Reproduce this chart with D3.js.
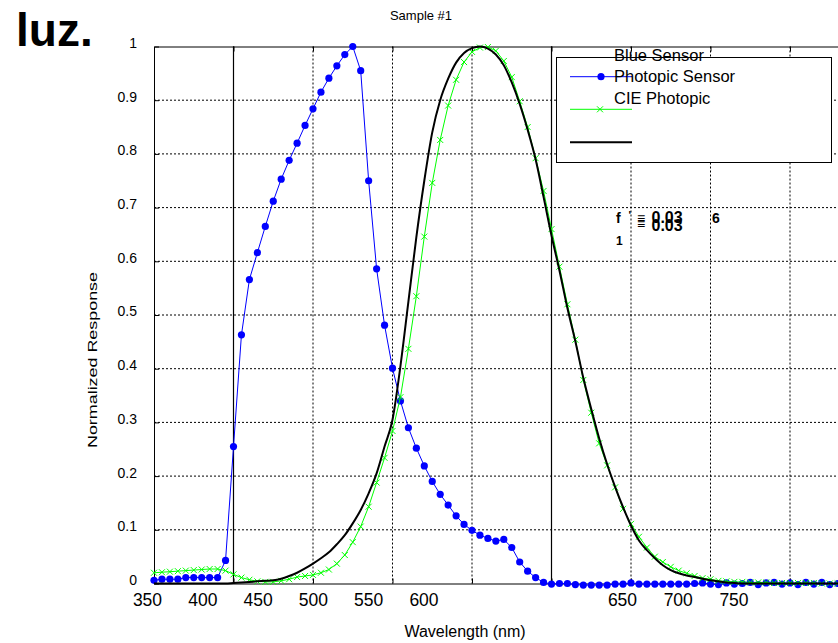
<!DOCTYPE html>
<html>
<head>
<meta charset="utf-8">
<script src="https://cdn.jsdelivr.net/npm/d3@7"></script>
<style>
  body { margin: 0; background: #fff; }
  svg { display: block; font-family: "Liberation Sans", Arial, sans-serif; }
</style>
</head>
<body>
<svg width="838" height="643"></svg>
<script>
// wavelengths, 350..800 nm every 5 nm
const wavelengths = d3.range(350, 801, 5);

// blue dots (blue sensor)
const blueSensor = [
  0.006, 0.008, 0.008, 0.008, 0.011, 0.011, 0.011, 0.011, 0.011, 0.043,
  0.255, 0.463, 0.566, 0.616, 0.665, 0.712, 0.753, 0.788, 0.820, 0.853,
  0.884, 0.915, 0.941, 0.964, 0.985, 1.000, 0.955, 0.750, 0.586, 0.481,
  0.401, 0.340, 0.290, 0.252, 0.219, 0.190, 0.166, 0.146, 0.126, 0.110,
  0.099, 0.090, 0.084, 0.079, 0.082, 0.067, 0.040, 0.023, 0.011, 0.002,
  -0.001, 0.000, 0.000, -0.002, -0.003, -0.003, -0.003, -0.003, -0.001, -0.001,
  0.001, -0.001, -0.001, -0.001, -0.001, -0.001, -0.001, -0.001, 0.000, 0.001,
  -0.001, -0.002, 0.001, -0.001, 0.000, 0.002, -0.002, 0.001, 0.002, -0.001,
  0.001, -0.002, 0.002, -0.001, 0.002, -0.002, 0.000, 0.001, -0.001, 0.001,
  0.000
];

// green crosses (CIE photopic)
const ciePhotopic = [
  0.020, 0.021, 0.022, 0.023, 0.024, 0.025, 0.026, 0.027, 0.027, 0.024,
  0.017, 0.011, 0.007, 0.004, 0.003, 0.003, 0.005, 0.008, 0.012, 0.014,
  0.016, 0.020, 0.026, 0.037, 0.053, 0.077, 0.106, 0.143, 0.188, 0.234,
  0.284, 0.347, 0.437, 0.535, 0.646, 0.746, 0.826, 0.890, 0.938, 0.971,
  0.990, 0.998, 0.999, 0.992, 0.973, 0.943, 0.898, 0.850, 0.792, 0.731,
  0.660, 0.590, 0.520, 0.454, 0.379, 0.318, 0.261, 0.220, 0.179, 0.139,
  0.111, 0.087, 0.067, 0.050, 0.040, 0.031, 0.024, 0.019, 0.014, 0.010,
  0.008, 0.005, 0.004, 0.003, 0.003, 0.002, 0.002, 0.002, 0.001, 0.001,
  0.001, 0.001, 0.001, 0.001, 0.000, 0.000, 0.000, 0.000, 0.000, 0.000,
  0.000
];

// black curve (photopic sensor)
const photopicSensor = [
  0.000, 0.000, 0.000, 0.000, 0.000, 0.000, 0.000, 0.000, 0.000, 0.000,
  0.001, 0.002, 0.003, 0.004, 0.005, 0.006, 0.009, 0.014, 0.020, 0.028,
  0.037, 0.047, 0.058, 0.073, 0.090, 0.112, 0.137, 0.168, 0.205, 0.255,
  0.305, 0.405, 0.525, 0.645, 0.750, 0.840, 0.900, 0.940, 0.970, 0.988,
  0.997, 1.000, 0.996, 0.985, 0.965, 0.933, 0.893, 0.845, 0.790, 0.720,
  0.648, 0.583, 0.513, 0.451, 0.383, 0.325, 0.270, 0.222, 0.180, 0.142,
  0.108, 0.080, 0.062, 0.047, 0.034, 0.025, 0.019, 0.015, 0.012, 0.009,
  0.006, 0.004, 0.002, 0.001, 0.000, 0.000, 0.000, 0.000, 0.000, 0.000,
  0.000, 0.000, 0.000, 0.000, 0.000, 0.000, 0.000, 0.000, 0.000, 0.000,
  0.000
];

const yTicks = [0, 0.1, 0.2, 0.3, 0.4, 0.5, 0.6, 0.7, 0.8, 0.9, 1];
const gridWavelengths = [400, 450, 500, 550, 600, 650, 700, 750, 800];
const solidWavelengths = [400, 600];
const xLabelsLeft = [350, 400, 450, 500, 550, 600];
const xLabelsRight = [650, 700, 750];
const legendLabels = ["Blue Sensor", "Photopic Sensor", "CIE Photopic"];

const svg = d3.select("svg");

const x = d3.scaleLinear().domain([350, 800]).range([154, 869.5]);
const y = d3.scaleLinear().domain([0, 1]).range([583.5, 46.5]);

const toPoints = arr => wavelengths.map((wl, i) => ({ wl, v: arr[i] }));
const blueData = toPoints(blueSensor);
const greenData = toPoints(ciePhotopic);
const blackData = toPoints(photopicSensor);

// grid
const grid = svg.append("g");
grid.selectAll(".vgrid")
  .data(gridWavelengths)
  .join("line")
  .attr("x1", d => x(d)).attr("x2", d => x(d))
  .attr("y1", y(1)).attr("y2", y(0))
  .attr("stroke", "#000")
  .attr("stroke-width", 1)
  .attr("stroke-dasharray", "2,2");
grid.selectAll(".hgrid")
  .data(yTicks.filter(d => d > 0 && d < 1))
  .join("line")
  .attr("x1", x(350)).attr("x2", x(800))
  .attr("y1", d => y(d)).attr("y2", d => y(d))
  .attr("stroke", "#000")
  .attr("stroke-width", 1)
  .attr("stroke-dasharray", "2,2");

// solid verticals
svg.append("g").selectAll("line")
  .data(solidWavelengths)
  .join("line")
  .attr("x1", d => x(d)).attr("x2", d => x(d))
  .attr("y1", y(1)).attr("y2", y(0))
  .attr("stroke", "#000")
  .attr("stroke-width", 1.2);

// axes (matlab style ticks inside)
svg.append("g")
  .attr("transform", `translate(0,${y(0)})`)
  .call(d3.axisBottom(x).tickValues(gridWavelengths).tickSizeInner(-5).tickSizeOuter(0).tickFormat(""))
  .call(g => g.selectAll("path,line").attr("stroke", "#000"));
svg.append("g")
  .attr("transform", `translate(0,${y(1)})`)
  .call(d3.axisTop(x).tickValues(gridWavelengths).tickSizeInner(-5).tickSizeOuter(0).tickFormat(""))
  .call(g => g.selectAll("path,line").attr("stroke", "#000"));
svg.append("g")
  .attr("transform", `translate(${x(350)},0)`)
  .call(d3.axisLeft(y).tickValues(yTicks).tickSizeInner(-5).tickSizeOuter(0).tickFormat(""))
  .call(g => g.selectAll("path,line").attr("stroke", "#000"));

// y tick labels
svg.append("g").selectAll("text")
  .data(yTicks)
  .join("text")
  .attr("x", 137)
  .attr("y", d => y(d) - 3.5)
  .attr("dy", "0.35em")
  .attr("text-anchor", "end")
  .style("font-size", "14px")
  .text(d => d3.format("~g")(d));

// x tick labels (misplaced as in the original)
const labelLeft = d3.scaleLinear().domain([350, 600]).range([147.5, 424]);
const labelRight = d3.scaleLinear().domain([650, 750]).range([622.5, 734]);
svg.append("g").selectAll("text")
  .data(xLabelsLeft.map(d => ({ d, px: labelLeft(d) }))
    .concat(xLabelsRight.map(d => ({ d, px: labelRight(d) }))))
  .join("text")
  .attr("x", d => d.px)
  .attr("y", 606)
  .attr("text-anchor", "middle")
  .style("font-size", "17.5px")
  .text(d => d.d);

// series
const line = d3.line().x(d => x(d.wl)).y(d => y(d.v));

svg.append("path").datum(blueData)
  .attr("fill", "none").attr("stroke", "#0000ff").attr("stroke-width", 1)
  .attr("d", line);
svg.append("g").selectAll("circle")
  .data(blueData)
  .join("circle")
  .attr("cx", d => x(d.wl)).attr("cy", d => y(d.v))
  .attr("r", 3.6)
  .attr("fill", "#0000ff");

const cross = "M-3,-3L3,3M-3,3L3,-3";
svg.append("path").datum(greenData)
  .attr("fill", "none").attr("stroke", "#00ff00").attr("stroke-width", 1)
  .attr("d", line);
svg.append("g").selectAll("path")
  .data(greenData)
  .join("path")
  .attr("transform", d => `translate(${x(d.wl)},${y(d.v)})`)
  .attr("d", cross)
  .attr("stroke", "#00ff00")
  .attr("stroke-width", 1);

svg.append("path").datum(blackData)
  .attr("fill", "none").attr("stroke", "#000").attr("stroke-width", 2)
  .attr("d", d3.line().curve(d3.curveMonotoneX).x(d => x(d.wl)).y(d => y(d.v)));

// legend
const legend = svg.append("g");
legend.append("rect")
  .attr("x", 556.5).attr("y", 57.5)
  .attr("width", 275).attr("height", 105)
  .attr("fill", "#fff").attr("stroke", "#000").attr("stroke-width", 1);
legend.append("line").attr("x1", 570).attr("x2", 632).attr("y1", 76.7).attr("y2", 76.7)
  .attr("stroke", "#0000ff");
legend.append("circle").attr("cx", 601).attr("cy", 76.7).attr("r", 3.6).attr("fill", "#0000ff");
legend.append("line").attr("x1", 570).attr("x2", 632).attr("y1", 109.3).attr("y2", 109.3)
  .attr("stroke", "#00ff00");
legend.append("path").attr("transform", "translate(600,109.3)").attr("d", cross)
  .attr("stroke", "#00ff00");
legend.append("line").attr("x1", 570).attr("x2", 632).attr("y1", 142.3).attr("y2", 142.3)
  .attr("stroke", "#000").attr("stroke-width", 2);
legend.selectAll("text")
  .data(legendLabels)
  .join("text")
  .attr("x", 614)
  .attr("y", (d, i) => [60.7, 81.7, 104][i])
  .style("font-size", "16.5px")
  .text(d => d);

// annotation
const ann = svg.append("g").style("font-weight", "bold");
ann.append("text").attr("x", 616).attr("y", 223).style("font-size", "14px").text("f");
ann.append("text").attr("x", 628.5).attr("y", 219).style("font-size", "11px").text("'");
ann.append("text").attr("x", 616).attr("y", 245).style("font-size", "12px").text("1");
ann.append("text").attr("x", 637).attr("y", 223.3).style("font-size", "14px").text("≡");
ann.append("text").attr("x", 651.5).attr("y", 223.3).style("font-size", "16px").text("0.03");
ann.append("text").attr("x", 637).attr("y", 229).style("font-size", "14px").text("≡");
ann.append("text").attr("x", 651.5).attr("y", 230.7).style("font-size", "16px").text("0.03");
ann.append("text").attr("x", 712).attr("y", 223.3).style("font-size", "14px").text("6");

// titles
svg.append("text")
  .attr("x", 421).attr("y", 20)
  .attr("text-anchor", "middle")
  .style("font-size", "13px")
  .text("Sample #1");

svg.append("text")
  .attr("x", 465).attr("y", 637)
  .attr("text-anchor", "middle")
  .style("font-size", "16px")
  .text("Wavelength (nm)");

svg.append("text")
  .attr("transform", "translate(96.5,360) rotate(-90)")
  .attr("text-anchor", "middle")
  .attr("textLength", 176)
  .attr("lengthAdjust", "spacingAndGlyphs")
  .style("font-size", "12.6px")
  .text("Normalized Response");

svg.append("text")
  .attr("x", 16).attr("y", 46)
  .style("font-size", "46px")
  .style("font-weight", "bold")
  .text("luz.");
</script>
</body>
</html>
